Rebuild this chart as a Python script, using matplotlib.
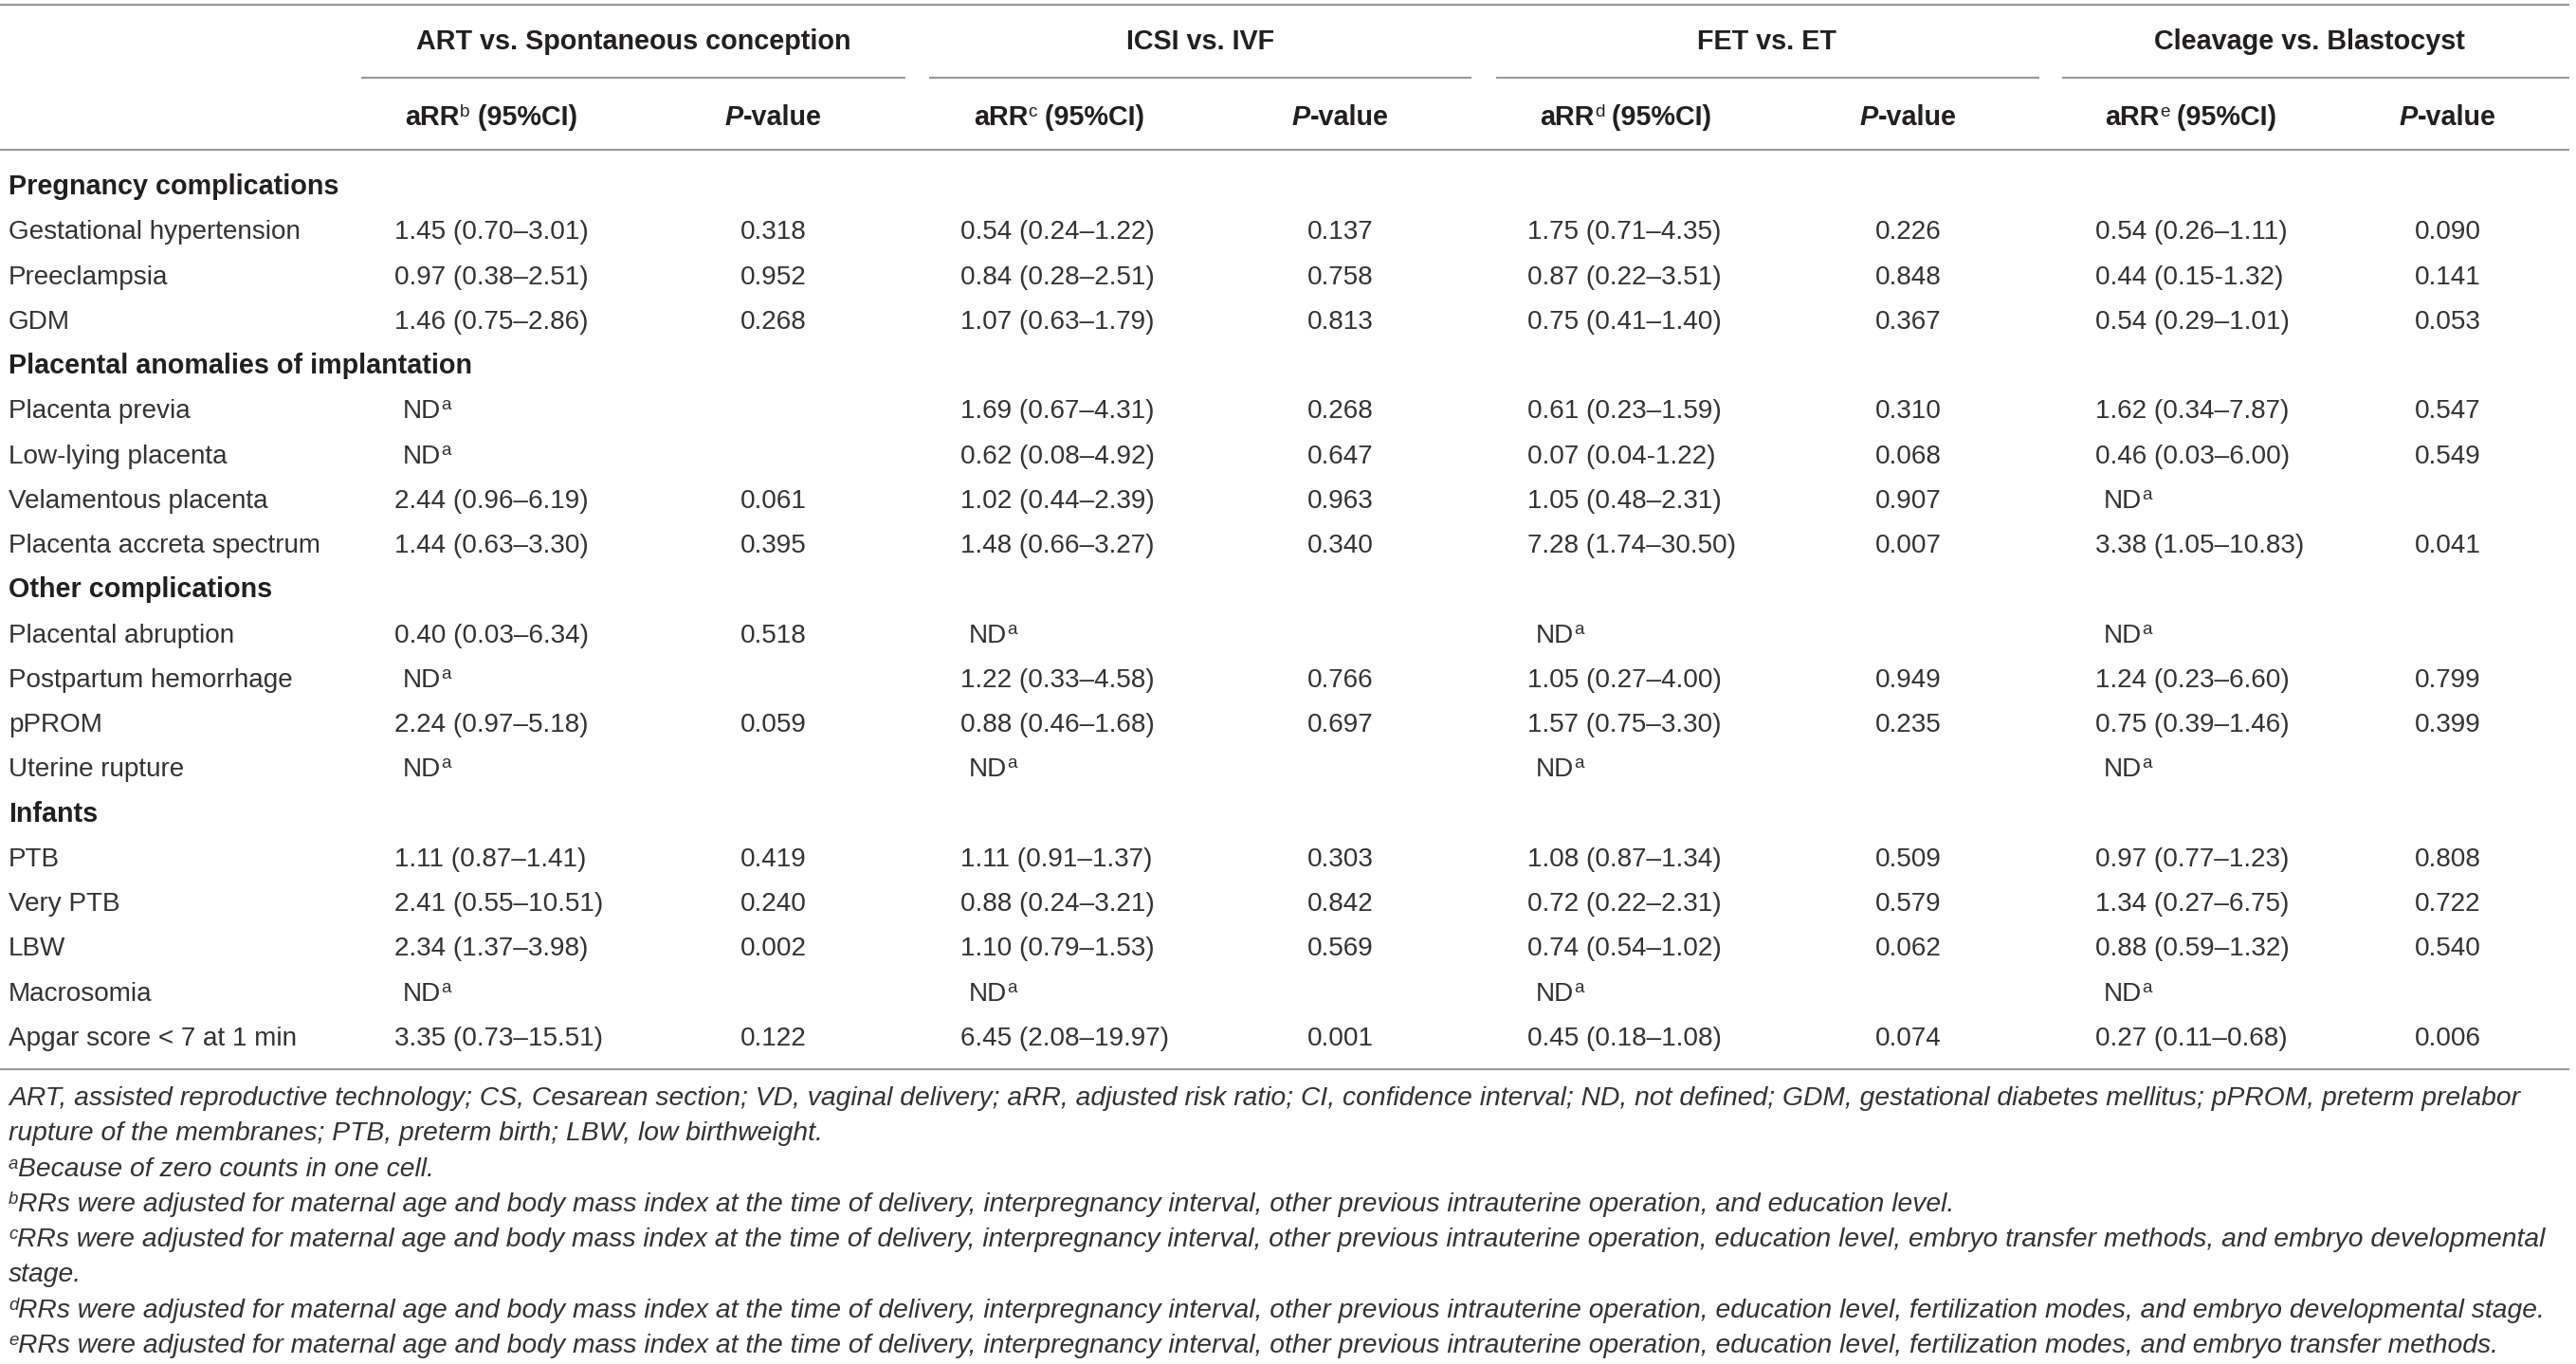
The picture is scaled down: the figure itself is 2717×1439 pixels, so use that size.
import matplotlib
matplotlib.use("Agg")
import matplotlib.pyplot as plt
from matplotlib import font_manager

W, H = 2717, 1439

# pick a condensed sans if one is installed
names = {f.name for f in font_manager.fontManager.ttflist}
FONT = "Liberation Sans Narrow" if "Liberation Sans Narrow" in names else "Liberation Sans"
plt.rcParams['font.family'] = [FONT, 'DejaVu Sans']

# ---- table data ----
group_titles = ["ART vs. Spontaneous conception", "ICSI vs. IVF", "FET vs. ET", "Cleavage vs. Blastocyst"]
group_marks = ["b", "c", "d", "e"]

sections = [
    ("Pregnancy complications", ["Gestational hypertension", "Preeclampsia", "GDM"]),
    ("Placental anomalies of implantation", ["Placenta previa", "Low-lying placenta", "Velamentous placenta",
                                             "Placenta accreta spectrum"]),
    ("Other complications", ["Placental abruption", "Postpartum hemorrhage", "pPROM", "Uterine rupture"]),
    ("Infants", ["PTB", "Very PTB", "LBW", "Macrosomia", "Apgar score < 7 at 1 min"]),
]

art_rr = ["1.45 (0.70–3.01)", "0.97 (0.38–2.51)", "1.46 (0.75–2.86)", "ND", "ND", "2.44 (0.96–6.19)",
          "1.44 (0.63–3.30)", "0.40 (0.03–6.34)", "ND", "2.24 (0.97–5.18)", "ND", "1.11 (0.87–1.41)",
          "2.41 (0.55–10.51)", "2.34 (1.37–3.98)", "ND", "3.35 (0.73–15.51)"]
art_p = ["0.318", "0.952", "0.268", "", "", "0.061", "0.395", "0.518", "", "0.059", "", "0.419",
         "0.240", "0.002", "", "0.122"]
icsi_rr = ["0.54 (0.24–1.22)", "0.84 (0.28–2.51)", "1.07 (0.63–1.79)", "1.69 (0.67–4.31)", "0.62 (0.08–4.92)",
           "1.02 (0.44–2.39)", "1.48 (0.66–3.27)", "ND", "1.22 (0.33–4.58)", "0.88 (0.46–1.68)", "ND",
           "1.11 (0.91–1.37)", "0.88 (0.24–3.21)", "1.10 (0.79–1.53)", "ND", "6.45 (2.08–19.97)"]
icsi_p = ["0.137", "0.758", "0.813", "0.268", "0.647", "0.963", "0.340", "", "0.766", "0.697", "",
          "0.303", "0.842", "0.569", "", "0.001"]
fet_rr = ["1.75 (0.71–4.35)", "0.87 (0.22–3.51)", "0.75 (0.41–1.40)", "0.61 (0.23–1.59)", "0.07 (0.04-1.22)",
          "1.05 (0.48–2.31)", "7.28 (1.74–30.50)", "ND", "1.05 (0.27–4.00)", "1.57 (0.75–3.30)", "ND",
          "1.08 (0.87–1.34)", "0.72 (0.22–2.31)", "0.74 (0.54–1.02)", "ND", "0.45 (0.18–1.08)"]
fet_p = ["0.226", "0.848", "0.367", "0.310", "0.068", "0.907", "0.007", "", "0.949", "0.235", "",
         "0.509", "0.579", "0.062", "", "0.074"]
cleav_rr = ["0.54 (0.26–1.11)", "0.44 (0.15-1.32)", "0.54 (0.29–1.01)", "1.62 (0.34–7.87)", "0.46 (0.03–6.00)",
            "ND", "3.38 (1.05–10.83)", "ND", "1.24 (0.23–6.60)", "0.75 (0.39–1.46)", "ND",
            "0.97 (0.77–1.23)", "1.34 (0.27–6.75)", "0.88 (0.59–1.32)", "ND", "0.27 (0.11–0.68)"]
cleav_p = ["0.090", "0.141", "0.053", "0.547", "0.549", "", "0.041", "", "0.799", "0.399", "",
           "0.808", "0.722", "0.540", "", "0.006"]

footnotes = [
    ("", "ART, assisted reproductive technology; CS, Cesarean section; VD, vaginal delivery; aRR, adjusted risk ratio; "
         "CI, confidence interval; ND, not defined; GDM, gestational diabetes mellitus; pPROM, preterm prelabor"),
    ("", "rupture of the membranes; PTB, preterm birth; LBW, low birthweight."),
    ("a", "Because of zero counts in one cell."),
    ("b", "RRs were adjusted for maternal age and body mass index at the time of delivery, interpregnancy interval, "
          "other previous intrauterine operation, and education level."),
    ("c", "RRs were adjusted for maternal age and body mass index at the time of delivery, interpregnancy interval, "
          "other previous intrauterine operation, education level, embryo transfer methods, and embryo developmental"),
    ("", "stage."),
    ("d", "RRs were adjusted for maternal age and body mass index at the time of delivery, interpregnancy interval, "
          "other previous intrauterine operation, education level, fertilization modes, and embryo developmental stage."),
    ("e", "RRs were adjusted for maternal age and body mass index at the time of delivery, interpregnancy interval, "
          "other previous intrauterine operation, education level, fertilization modes, and embryo transfer methods."),
]

columns = [(art_rr, art_p), (icsi_rr, icsi_p), (fet_rr, fet_p), (cleav_rr, cleav_p)]

# ---- layout (pixels from top-left) ----
grp_line = [(381, 955), (980, 1552), (1578, 2151), (2175, 2710)]
grp_center = [668, 1266, 1863, 2436]
rr_left = [416, 1013, 1611, 2210]
rr_head_center = [518, 1117, 1715, 2311]
p_center = [816, 1414, 2013, 2582]

TXT = "#333333"
HEAD = "#231f20"
LINE = "#9a9a9a"

fig = plt.figure(figsize=(W / 100, H / 100), dpi=100)
ax = fig.add_axes([0, 0, 1, 1])
ax.set_xlim(0, W)
ax.set_ylim(H, 0)
ax.axis("off")
renderer = fig.canvas.get_renderer()


def fit_size(s, target, weight="normal", style="normal", base=20):
    t = ax.text(0, 0, s, fontsize=base, fontweight=weight, fontstyle=style)
    w = t.get_window_extent(renderer).width
    t.remove()
    return base * target / w


# font sizes matched to widths measured on the reference
BODY = fit_size("Gestational hypertension", 308)
HBOLD = fit_size("ART vs. Spontaneous conception", 459, weight="bold")
# footnote lines: right ends seen on the reference; use the size that keeps all inside
foot_ends = {0: 2705, 3: 2054, 4: 2700, 6: 2673, 7: 2624}
FOOT = min(fit_size(footnotes[i][1], e - 22, style="italic") for i, e in foot_ends.items())


def runs(x, y, parts, ha="left", color=TXT):
    # parts: (text, size, weight, style, raise)
    objs = []
    total = 0
    for s, size, weight, style, rise in parts:
        t = ax.text(0, y - rise, s, fontsize=size, fontweight=weight, fontstyle=style,
                    color=color, va="baseline", ha="left")
        w = t.get_window_extent(renderer).width
        objs.append((t, w))
        total += w
    x0 = x - total / 2 if ha == "center" else x
    for t, w in objs:
        t.set_x(x0)
        x0 += w


# horizontal rules
for yl in (5, 158, 1128):
    ax.plot([0, 2710], [yl, yl], color=LINE, lw=1.6, solid_capstyle="butt")
for a, b in grp_line:
    ax.plot([a, b], [82, 82], color=LINE, lw=1.6, solid_capstyle="butt")

# header
for i, g in enumerate(group_titles):
    runs(grp_center[i], 52, [(g, HBOLD, "bold", "normal", 0)], ha="center", color=HEAD)
    runs(rr_head_center[i], 132, [("aRR", HBOLD, "bold", "normal", 0),
                                  (group_marks[i], HBOLD * 0.66, "normal", "normal", 9),
                                  (" (95%CI)", HBOLD, "bold", "normal", 0)], ha="center", color=HEAD)
    runs(p_center[i], 132, [("P", HBOLD, "bold", "italic", 0),
                            ("-value", HBOLD, "bold", "normal", 0)], ha="center", color=HEAD)

# body rows
row_y0, row_dy = 195, 47.26
k = 0
r = 0
for title, items in sections:
    yb = row_y0 + row_dy * k + 10
    runs(9, yb, [(title, HBOLD, "bold", "normal", 0)], color=HEAD)
    k += 1
    for item in items:
        yb = row_y0 + row_dy * k + 10
        runs(9, yb, [(item, BODY, "normal", "normal", 0)])
        for c, (rr, pv) in enumerate(columns):
            if rr[r] == "ND":
                runs(rr_left[c] + 9, yb, [("ND", BODY, "normal", "normal", 0),
                                          ("a", BODY * 0.68, "normal", "normal", 9)])
            else:
                runs(rr_left[c], yb, [(rr[r], BODY, "normal", "normal", 0)])
            if pv[r]:
                runs(p_center[c], yb, [(pv[r], BODY, "normal", "normal", 0)], ha="center")
        k += 1
        r += 1

# footnotes
foot_y0, foot_dy = 1157, 37.3
for i, (mark, txt) in enumerate(footnotes):
    yc = foot_y0 + foot_dy * i
    parts = []
    if mark:
        parts.append((mark, FOOT * 0.66, "normal", "italic", 8))
    parts.append((txt, FOOT, "normal", "italic", 0))
    runs(9, yc + 9, parts)

fig.savefig("out.png", dpi=100)
